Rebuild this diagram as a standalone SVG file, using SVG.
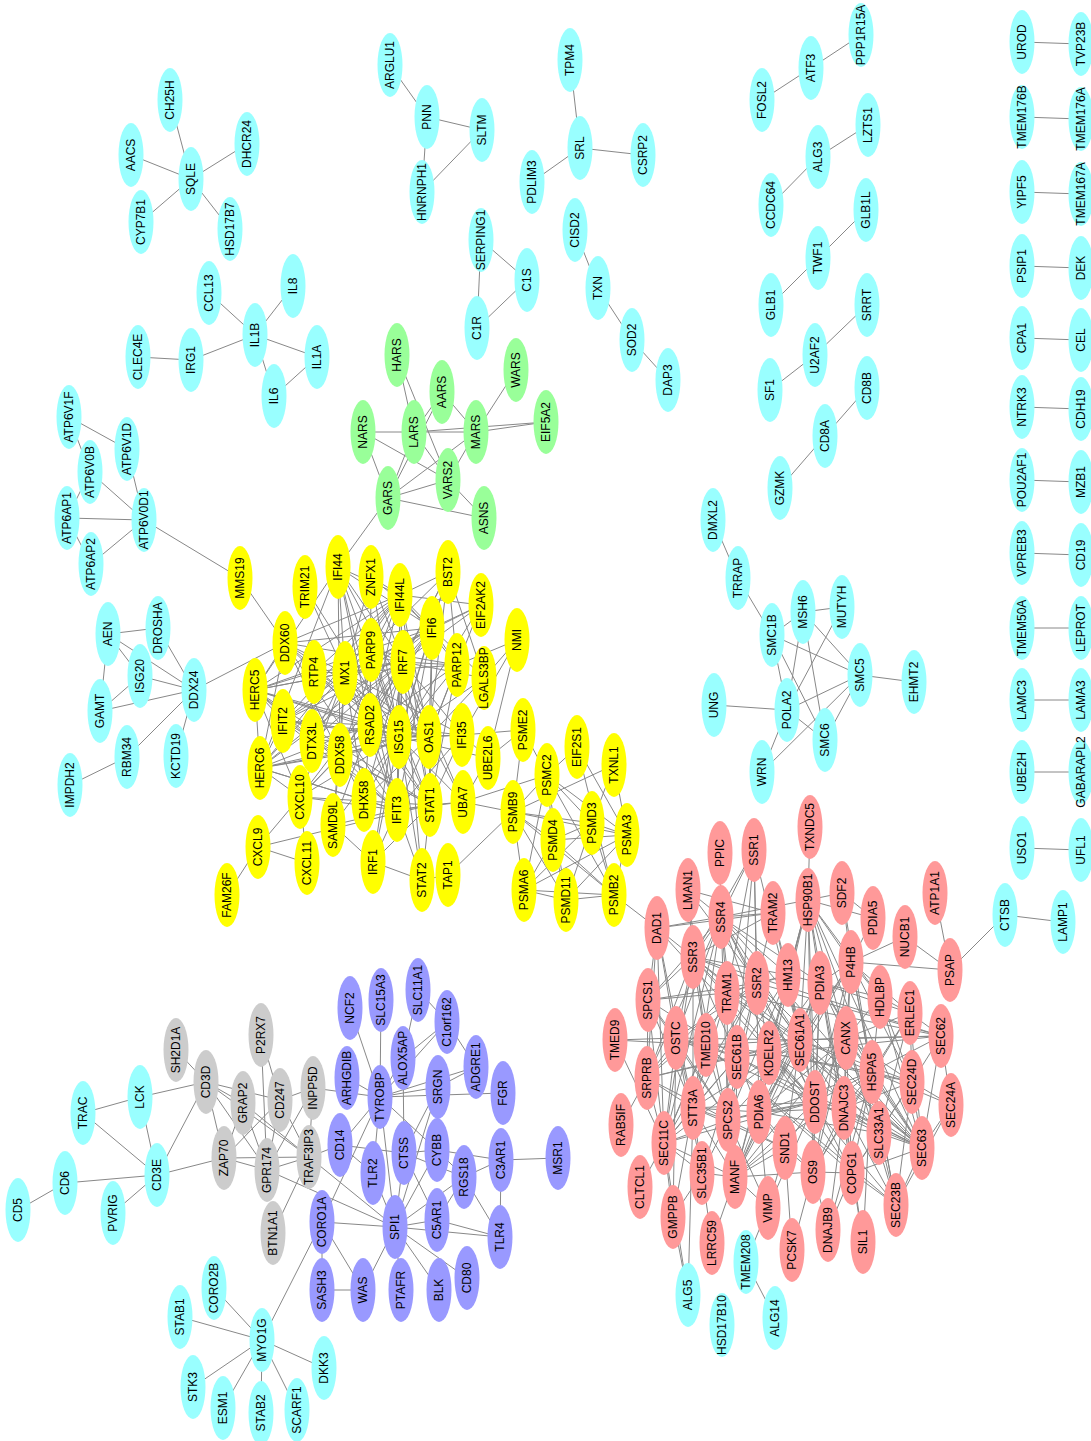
<svg xmlns="http://www.w3.org/2000/svg" width="1091" height="1441" viewBox="0 0 1091 1441">
<style>
.c{fill:#99ffff}.y{fill:#ffff00}.r{fill:#ff9999}.g{fill:#99ff99}.p{fill:#9999ff}.k{fill:#cccccc}
text{font-family:"Liberation Sans",Arial,sans-serif;font-size:12px;text-anchor:middle;dominant-baseline:central;fill:#000}
#edges line{stroke:#888;stroke-width:1}
</style>
<rect width="1091" height="1441" fill="#fff"/>
<g id="edges">
<line x1="170" y1="100" x2="191" y2="179"/><line x1="131" y1="155" x2="191" y2="179"/><line x1="141" y1="222" x2="191" y2="179"/><line x1="247" y1="144" x2="191" y2="179"/><line x1="230" y1="229" x2="191" y2="179"/>
<line x1="209" y1="293" x2="255" y2="335"/><line x1="293" y1="286" x2="255" y2="335"/><line x1="191" y1="360" x2="255" y2="335"/><line x1="138" y1="357" x2="191" y2="360"/><line x1="255" y1="335" x2="317" y2="357"/><line x1="255" y1="335" x2="274" y2="396"/><line x1="274" y1="396" x2="317" y2="357"/>
<line x1="69" y1="417" x2="127" y2="449"/><line x1="69" y1="417" x2="90" y2="472"/><line x1="90" y1="472" x2="144" y2="520"/><line x1="127" y1="449" x2="144" y2="520"/><line x1="67" y1="518" x2="90" y2="472"/><line x1="67" y1="518" x2="144" y2="520"/><line x1="67" y1="518" x2="91" y2="564"/><line x1="91" y1="564" x2="144" y2="520"/><line x1="144" y1="520" x2="240" y2="578"/>
<line x1="108" y1="634" x2="158" y2="628"/><line x1="108" y1="634" x2="140" y2="676"/><line x1="108" y1="634" x2="100" y2="711"/><line x1="108" y1="634" x2="194" y2="690"/><line x1="100" y1="711" x2="140" y2="676"/><line x1="100" y1="711" x2="194" y2="690"/><line x1="140" y1="676" x2="194" y2="690"/><line x1="158" y1="628" x2="194" y2="690"/><line x1="127" y1="757" x2="194" y2="690"/><line x1="127" y1="757" x2="70" y2="785"/><line x1="176" y1="756" x2="194" y2="690"/><line x1="194" y1="690" x2="285" y2="643"/><line x1="240" y1="578" x2="285" y2="643"/>
<line x1="390" y1="65" x2="427" y2="117"/><line x1="427" y1="117" x2="482" y2="130"/><line x1="427" y1="117" x2="422" y2="192"/><line x1="422" y1="192" x2="482" y2="130"/>
<line x1="570" y1="60" x2="580" y2="148"/><line x1="580" y1="148" x2="532" y2="182"/><line x1="580" y1="148" x2="643" y2="155"/>
<line x1="481" y1="240" x2="527" y2="280"/><line x1="481" y1="240" x2="477" y2="328"/><line x1="477" y1="328" x2="527" y2="280"/>
<line x1="575" y1="230" x2="598" y2="288"/><line x1="598" y1="288" x2="632" y2="340"/><line x1="632" y1="340" x2="668" y2="380"/>
<line x1="363" y1="432" x2="476" y2="432"/><line x1="363" y1="432" x2="388" y2="498"/><line x1="363" y1="432" x2="448" y2="480"/><line x1="397" y1="355" x2="414" y2="432"/><line x1="397" y1="355" x2="448" y2="480"/><line x1="442" y1="392" x2="414" y2="432"/><line x1="442" y1="392" x2="476" y2="432"/><line x1="442" y1="392" x2="388" y2="498"/><line x1="414" y1="432" x2="388" y2="498"/><line x1="414" y1="432" x2="448" y2="480"/><line x1="414" y1="432" x2="546" y2="422"/><line x1="476" y1="432" x2="516" y2="370"/><line x1="476" y1="432" x2="546" y2="422"/><line x1="476" y1="432" x2="388" y2="498"/><line x1="476" y1="432" x2="448" y2="480"/><line x1="448" y1="480" x2="388" y2="498"/><line x1="448" y1="480" x2="484" y2="518"/><line x1="388" y1="498" x2="484" y2="518"/><line x1="388" y1="498" x2="338" y2="567"/>
<line x1="762" y1="100" x2="811" y2="68"/><line x1="811" y1="68" x2="861" y2="35"/><line x1="771" y1="205" x2="818" y2="157"/><line x1="818" y1="157" x2="868" y2="125"/><line x1="771" y1="305" x2="818" y2="258"/><line x1="818" y1="258" x2="866" y2="210"/><line x1="770" y1="390" x2="815" y2="355"/><line x1="815" y1="355" x2="867" y2="305"/><line x1="780" y1="488" x2="825" y2="436"/><line x1="825" y1="436" x2="867" y2="388"/>
<line x1="713" y1="520" x2="738" y2="578"/><line x1="738" y1="578" x2="772" y2="635"/><line x1="772" y1="635" x2="803" y2="612"/><line x1="772" y1="635" x2="860" y2="675"/><line x1="772" y1="635" x2="787" y2="710"/><line x1="772" y1="635" x2="825" y2="740"/><line x1="803" y1="612" x2="842" y2="607"/><line x1="803" y1="612" x2="860" y2="675"/><line x1="803" y1="612" x2="787" y2="710"/><line x1="803" y1="612" x2="825" y2="740"/><line x1="842" y1="607" x2="787" y2="710"/><line x1="860" y1="675" x2="914" y2="682"/><line x1="860" y1="675" x2="787" y2="710"/><line x1="860" y1="675" x2="825" y2="740"/><line x1="714" y1="705" x2="787" y2="710"/><line x1="762" y1="772" x2="787" y2="710"/><line x1="762" y1="772" x2="860" y2="675"/><line x1="787" y1="710" x2="825" y2="740"/>
<line x1="1022" y1="42" x2="1081" y2="44"/><line x1="1022" y1="117" x2="1081" y2="119"/><line x1="1022" y1="192" x2="1081" y2="194"/><line x1="1022" y1="266" x2="1081" y2="268"/><line x1="1022" y1="338" x2="1081" y2="340"/><line x1="1022" y1="407" x2="1081" y2="409"/><line x1="1022" y1="480" x2="1081" y2="482"/><line x1="1022" y1="553" x2="1081" y2="555"/><line x1="1022" y1="628" x2="1081" y2="628"/><line x1="1022" y1="700" x2="1081" y2="700"/><line x1="1022" y1="772" x2="1081" y2="772"/><line x1="1022" y1="848" x2="1081" y2="850"/>
<line x1="1005" y1="915" x2="1063" y2="922"/><line x1="1005" y1="915" x2="950" y2="970"/>
<!-- yellow -->
<line x1="399" y1="737" x2="338" y2="567"/><line x1="399" y1="737" x2="371" y2="577"/><line x1="399" y1="737" x2="400" y2="595"/><line x1="399" y1="737" x2="448" y2="572"/><line x1="399" y1="737" x2="432" y2="628"/><line x1="399" y1="737" x2="285" y2="643"/><line x1="399" y1="737" x2="371" y2="650"/><line x1="399" y1="737" x2="314" y2="672"/><line x1="399" y1="737" x2="345" y2="673"/><line x1="399" y1="737" x2="403" y2="662"/><line x1="399" y1="737" x2="457" y2="665"/><line x1="399" y1="737" x2="255" y2="690"/><line x1="399" y1="737" x2="283" y2="721"/><line x1="399" y1="737" x2="370" y2="725"/><line x1="399" y1="737" x2="429" y2="737"/><line x1="399" y1="737" x2="462" y2="735"/><line x1="399" y1="737" x2="260" y2="768"/><line x1="399" y1="737" x2="312" y2="741"/><line x1="399" y1="737" x2="340" y2="755"/><line x1="399" y1="737" x2="364" y2="800"/><line x1="399" y1="737" x2="397" y2="810"/><line x1="399" y1="737" x2="430" y2="805"/><line x1="399" y1="737" x2="463" y2="802"/><line x1="399" y1="737" x2="481" y2="605"/><line x1="399" y1="737" x2="484" y2="678"/><line x1="399" y1="737" x2="305" y2="587"/><line x1="399" y1="737" x2="333" y2="825"/><line x1="399" y1="737" x2="300" y2="797"/><line x1="399" y1="737" x2="373" y2="862"/><line x1="399" y1="737" x2="422" y2="880"/><line x1="399" y1="737" x2="488" y2="758"/>
<line x1="345" y1="673" x2="338" y2="567"/><line x1="345" y1="673" x2="371" y2="577"/><line x1="345" y1="673" x2="400" y2="595"/><line x1="345" y1="673" x2="448" y2="572"/><line x1="345" y1="673" x2="432" y2="628"/><line x1="345" y1="673" x2="285" y2="643"/><line x1="345" y1="673" x2="371" y2="650"/><line x1="345" y1="673" x2="314" y2="672"/><line x1="345" y1="673" x2="403" y2="662"/><line x1="345" y1="673" x2="457" y2="665"/><line x1="345" y1="673" x2="255" y2="690"/><line x1="345" y1="673" x2="283" y2="721"/><line x1="345" y1="673" x2="370" y2="725"/><line x1="345" y1="673" x2="429" y2="737"/><line x1="345" y1="673" x2="462" y2="735"/><line x1="345" y1="673" x2="260" y2="768"/><line x1="345" y1="673" x2="312" y2="741"/><line x1="345" y1="673" x2="340" y2="755"/><line x1="345" y1="673" x2="364" y2="800"/><line x1="345" y1="673" x2="397" y2="810"/><line x1="345" y1="673" x2="430" y2="805"/><line x1="345" y1="673" x2="481" y2="605"/><line x1="345" y1="673" x2="333" y2="825"/><line x1="345" y1="673" x2="300" y2="797"/><line x1="345" y1="673" x2="305" y2="587"/>
<line x1="403" y1="662" x2="338" y2="567"/><line x1="403" y1="662" x2="371" y2="577"/><line x1="403" y1="662" x2="400" y2="595"/><line x1="403" y1="662" x2="448" y2="572"/><line x1="403" y1="662" x2="432" y2="628"/><line x1="403" y1="662" x2="285" y2="643"/><line x1="403" y1="662" x2="371" y2="650"/><line x1="403" y1="662" x2="314" y2="672"/><line x1="403" y1="662" x2="457" y2="665"/><line x1="403" y1="662" x2="255" y2="690"/><line x1="403" y1="662" x2="283" y2="721"/><line x1="403" y1="662" x2="370" y2="725"/><line x1="403" y1="662" x2="429" y2="737"/><line x1="403" y1="662" x2="462" y2="735"/><line x1="403" y1="662" x2="260" y2="768"/><line x1="403" y1="662" x2="312" y2="741"/><line x1="403" y1="662" x2="340" y2="755"/><line x1="403" y1="662" x2="364" y2="800"/><line x1="403" y1="662" x2="397" y2="810"/><line x1="403" y1="662" x2="430" y2="805"/><line x1="403" y1="662" x2="463" y2="802"/><line x1="403" y1="662" x2="481" y2="605"/><line x1="403" y1="662" x2="484" y2="678"/><line x1="403" y1="662" x2="422" y2="880"/><line x1="403" y1="662" x2="373" y2="862"/><line x1="403" y1="662" x2="300" y2="797"/>
<line x1="370" y1="725" x2="338" y2="567"/><line x1="370" y1="725" x2="371" y2="577"/><line x1="370" y1="725" x2="400" y2="595"/><line x1="370" y1="725" x2="448" y2="572"/><line x1="370" y1="725" x2="432" y2="628"/><line x1="370" y1="725" x2="285" y2="643"/><line x1="370" y1="725" x2="371" y2="650"/><line x1="370" y1="725" x2="314" y2="672"/><line x1="370" y1="725" x2="255" y2="690"/><line x1="370" y1="725" x2="283" y2="721"/><line x1="370" y1="725" x2="429" y2="737"/><line x1="370" y1="725" x2="462" y2="735"/><line x1="370" y1="725" x2="260" y2="768"/><line x1="370" y1="725" x2="312" y2="741"/><line x1="370" y1="725" x2="340" y2="755"/><line x1="370" y1="725" x2="364" y2="800"/><line x1="370" y1="725" x2="397" y2="810"/><line x1="370" y1="725" x2="430" y2="805"/><line x1="370" y1="725" x2="300" y2="797"/><line x1="370" y1="725" x2="333" y2="825"/><line x1="370" y1="725" x2="457" y2="665"/>
<line x1="429" y1="737" x2="338" y2="567"/><line x1="429" y1="737" x2="400" y2="595"/><line x1="429" y1="737" x2="448" y2="572"/><line x1="429" y1="737" x2="432" y2="628"/><line x1="429" y1="737" x2="285" y2="643"/><line x1="429" y1="737" x2="314" y2="672"/><line x1="429" y1="737" x2="255" y2="690"/><line x1="429" y1="737" x2="283" y2="721"/><line x1="429" y1="737" x2="462" y2="735"/><line x1="429" y1="737" x2="260" y2="768"/><line x1="429" y1="737" x2="340" y2="755"/><line x1="429" y1="737" x2="364" y2="800"/><line x1="429" y1="737" x2="397" y2="810"/><line x1="429" y1="737" x2="430" y2="805"/><line x1="429" y1="737" x2="463" y2="802"/><line x1="429" y1="737" x2="481" y2="605"/><line x1="429" y1="737" x2="484" y2="678"/><line x1="429" y1="737" x2="457" y2="665"/><line x1="429" y1="737" x2="371" y2="650"/>
<line x1="397" y1="810" x2="338" y2="567"/><line x1="397" y1="810" x2="400" y2="595"/><line x1="397" y1="810" x2="432" y2="628"/><line x1="397" y1="810" x2="285" y2="643"/><line x1="397" y1="810" x2="371" y2="650"/><line x1="397" y1="810" x2="255" y2="690"/><line x1="397" y1="810" x2="283" y2="721"/><line x1="397" y1="810" x2="462" y2="735"/><line x1="397" y1="810" x2="260" y2="768"/><line x1="397" y1="810" x2="340" y2="755"/><line x1="397" y1="810" x2="364" y2="800"/><line x1="397" y1="810" x2="430" y2="805"/><line x1="397" y1="810" x2="300" y2="797"/><line x1="397" y1="810" x2="333" y2="825"/><line x1="397" y1="810" x2="373" y2="862"/><line x1="397" y1="810" x2="422" y2="880"/><line x1="397" y1="810" x2="463" y2="802"/>
<line x1="430" y1="805" x2="432" y2="628"/><line x1="430" y1="805" x2="371" y2="650"/><line x1="430" y1="805" x2="312" y2="741"/><line x1="430" y1="805" x2="340" y2="755"/><line x1="430" y1="805" x2="462" y2="735"/><line x1="430" y1="805" x2="373" y2="862"/><line x1="430" y1="805" x2="422" y2="880"/><line x1="430" y1="805" x2="300" y2="797"/><line x1="430" y1="805" x2="255" y2="690"/><line x1="430" y1="805" x2="457" y2="665"/><line x1="430" y1="805" x2="463" y2="802"/><line x1="430" y1="805" x2="400" y2="595"/><line x1="430" y1="805" x2="258" y2="847"/>
<line x1="340" y1="755" x2="338" y2="567"/><line x1="340" y1="755" x2="400" y2="595"/><line x1="340" y1="755" x2="283" y2="721"/><line x1="340" y1="755" x2="255" y2="690"/><line x1="340" y1="755" x2="260" y2="768"/><line x1="340" y1="755" x2="364" y2="800"/><line x1="340" y1="755" x2="285" y2="643"/><line x1="340" y1="755" x2="432" y2="628"/><line x1="340" y1="755" x2="300" y2="797"/><line x1="340" y1="755" x2="333" y2="825"/>
<line x1="255" y1="690" x2="400" y2="595"/><line x1="255" y1="690" x2="338" y2="567"/><line x1="255" y1="690" x2="285" y2="643"/><line x1="255" y1="690" x2="283" y2="721"/><line x1="255" y1="690" x2="260" y2="768"/><line x1="255" y1="690" x2="314" y2="672"/><line x1="255" y1="690" x2="432" y2="628"/><line x1="255" y1="690" x2="312" y2="741"/><line x1="255" y1="690" x2="300" y2="797"/>
<line x1="260" y1="768" x2="400" y2="595"/><line x1="260" y1="768" x2="338" y2="567"/><line x1="260" y1="768" x2="283" y2="721"/><line x1="260" y1="768" x2="285" y2="643"/><line x1="260" y1="768" x2="432" y2="628"/><line x1="260" y1="768" x2="300" y2="797"/><line x1="260" y1="768" x2="364" y2="800"/>
<line x1="400" y1="595" x2="338" y2="567"/><line x1="400" y1="595" x2="371" y2="577"/><line x1="400" y1="595" x2="432" y2="628"/><line x1="400" y1="595" x2="285" y2="643"/><line x1="400" y1="595" x2="448" y2="572"/><line x1="400" y1="595" x2="457" y2="665"/><line x1="400" y1="595" x2="481" y2="605"/><line x1="400" y1="595" x2="283" y2="721"/><line x1="400" y1="595" x2="314" y2="672"/><line x1="400" y1="595" x2="371" y2="650"/>
<line x1="432" y1="628" x2="448" y2="572"/><line x1="432" y1="628" x2="338" y2="567"/><line x1="432" y1="628" x2="371" y2="577"/><line x1="432" y1="628" x2="285" y2="643"/><line x1="432" y1="628" x2="283" y2="721"/><line x1="432" y1="628" x2="481" y2="605"/><line x1="432" y1="628" x2="484" y2="678"/><line x1="432" y1="628" x2="457" y2="665"/>
<line x1="371" y1="650" x2="312" y2="741"/><line x1="371" y1="650" x2="457" y2="665"/><line x1="448" y1="572" x2="457" y2="665"/><line x1="448" y1="572" x2="484" y2="678"/><line x1="462" y1="735" x2="517" y2="640"/><line x1="462" y1="735" x2="523" y2="730"/><line x1="517" y1="640" x2="488" y2="758"/><line x1="517" y1="640" x2="457" y2="665"/><line x1="517" y1="640" x2="484" y2="678"/><line x1="488" y1="758" x2="523" y2="730"/><line x1="488" y1="758" x2="463" y2="802"/><line x1="488" y1="758" x2="462" y2="735"/>
<line x1="300" y1="797" x2="258" y2="847"/><line x1="300" y1="797" x2="307" y2="863"/><line x1="258" y1="847" x2="307" y2="863"/><line x1="258" y1="847" x2="227" y2="895"/><line x1="333" y1="825" x2="373" y2="862"/><line x1="373" y1="862" x2="422" y2="880"/><line x1="422" y1="880" x2="448" y2="875"/><line x1="448" y1="875" x2="513" y2="812"/>
<line x1="463" y1="802" x2="513" y2="812"/><line x1="463" y1="802" x2="547" y2="775"/><line x1="523" y1="730" x2="513" y2="812"/><line x1="523" y1="730" x2="547" y2="775"/>
<line x1="513" y1="812" x2="547" y2="775"/><line x1="513" y1="812" x2="553" y2="840"/><line x1="513" y1="812" x2="592" y2="823"/><line x1="513" y1="812" x2="627" y2="835"/><line x1="513" y1="812" x2="524" y2="890"/><line x1="513" y1="812" x2="614" y2="895"/><line x1="513" y1="812" x2="566" y2="900"/><line x1="513" y1="812" x2="614" y2="765"/>
<line x1="547" y1="775" x2="577" y2="747"/><line x1="547" y1="775" x2="592" y2="823"/><line x1="547" y1="775" x2="627" y2="835"/><line x1="547" y1="775" x2="553" y2="840"/><line x1="547" y1="775" x2="614" y2="895"/><line x1="547" y1="775" x2="524" y2="890"/><line x1="547" y1="775" x2="566" y2="900"/>
<line x1="592" y1="823" x2="553" y2="840"/><line x1="592" y1="823" x2="627" y2="835"/><line x1="592" y1="823" x2="524" y2="890"/><line x1="592" y1="823" x2="566" y2="900"/><line x1="592" y1="823" x2="614" y2="895"/><line x1="592" y1="823" x2="614" y2="765"/>
<line x1="553" y1="840" x2="627" y2="835"/><line x1="553" y1="840" x2="524" y2="890"/><line x1="553" y1="840" x2="566" y2="900"/><line x1="553" y1="840" x2="614" y2="895"/>
<line x1="627" y1="835" x2="524" y2="890"/><line x1="627" y1="835" x2="566" y2="900"/><line x1="627" y1="835" x2="614" y2="895"/><line x1="627" y1="835" x2="614" y2="765"/><line x1="627" y1="835" x2="577" y2="747"/>
<line x1="524" y1="890" x2="566" y2="900"/><line x1="524" y1="890" x2="614" y2="895"/><line x1="566" y1="900" x2="614" y2="895"/><line x1="577" y1="747" x2="614" y2="895"/><line x1="614" y1="895" x2="657" y2="928"/>
<!-- red -->
<line x1="721" y1="917" x2="754" y2="850"/><line x1="721" y1="917" x2="720" y2="853"/><line x1="721" y1="917" x2="688" y2="890"/><line x1="721" y1="917" x2="773" y2="913"/><line x1="721" y1="917" x2="657" y2="928"/><line x1="721" y1="917" x2="693" y2="957"/><line x1="721" y1="917" x2="757" y2="983"/><line x1="721" y1="917" x2="727" y2="993"/><line x1="721" y1="917" x2="788" y2="975"/><line x1="721" y1="917" x2="800" y2="1040"/><line x1="721" y1="917" x2="737" y2="1057"/><line x1="721" y1="917" x2="648" y2="1000"/><line x1="721" y1="917" x2="676" y2="1038"/><line x1="721" y1="917" x2="693" y2="1108"/><line x1="721" y1="917" x2="815" y2="1102"/><line x1="721" y1="917" x2="728" y2="1120"/><line x1="721" y1="917" x2="664" y2="1143"/><line x1="721" y1="917" x2="808" y2="900"/><line x1="721" y1="917" x2="820" y2="983"/><line x1="721" y1="917" x2="922" y2="1148"/><line x1="721" y1="917" x2="647" y2="1078"/><line x1="721" y1="917" x2="769" y2="1053"/>
<line x1="754" y1="850" x2="757" y2="983"/><line x1="754" y1="850" x2="693" y2="957"/><line x1="754" y1="850" x2="727" y2="993"/><line x1="754" y1="850" x2="800" y2="1040"/><line x1="754" y1="850" x2="737" y2="1057"/><line x1="754" y1="850" x2="759" y2="1112"/>
<line x1="688" y1="890" x2="773" y2="913"/><line x1="688" y1="890" x2="693" y2="957"/><line x1="688" y1="890" x2="706" y2="1045"/><line x1="688" y1="890" x2="800" y2="1040"/>
<line x1="773" y1="913" x2="788" y2="975"/><line x1="773" y1="913" x2="757" y2="983"/><line x1="773" y1="913" x2="800" y2="1040"/><line x1="773" y1="913" x2="693" y2="957"/><line x1="657" y1="928" x2="773" y2="913"/>
<line x1="810" y1="827" x2="808" y2="900"/>
<line x1="808" y1="900" x2="842" y2="893"/><line x1="808" y1="900" x2="851" y2="962"/><line x1="808" y1="900" x2="820" y2="983"/><line x1="808" y1="900" x2="846" y2="1038"/><line x1="808" y1="900" x2="872" y2="1072"/><line x1="808" y1="900" x2="759" y2="1112"/><line x1="808" y1="900" x2="844" y2="1108"/><line x1="808" y1="900" x2="788" y2="975"/><line x1="808" y1="900" x2="800" y2="1040"/><line x1="808" y1="900" x2="815" y2="1102"/><line x1="808" y1="900" x2="813" y2="1172"/><line x1="808" y1="900" x2="735" y2="1177"/><line x1="808" y1="900" x2="922" y2="1148"/><line x1="808" y1="900" x2="769" y2="1053"/><line x1="808" y1="900" x2="880" y2="997"/><line x1="808" y1="900" x2="873" y2="918"/>
<line x1="842" y1="893" x2="873" y2="918"/><line x1="842" y1="893" x2="872" y2="1072"/><line x1="842" y1="893" x2="851" y2="962"/>
<line x1="851" y1="962" x2="905" y2="937"/><line x1="851" y1="962" x2="950" y2="970"/><line x1="851" y1="962" x2="820" y2="983"/><line x1="851" y1="962" x2="872" y2="1072"/><line x1="851" y1="962" x2="846" y2="1038"/><line x1="851" y1="962" x2="759" y2="1112"/><line x1="851" y1="962" x2="910" y2="1013"/><line x1="851" y1="962" x2="880" y2="997"/><line x1="851" y1="962" x2="815" y2="1102"/><line x1="851" y1="962" x2="800" y2="1040"/><line x1="851" y1="962" x2="844" y2="1108"/><line x1="851" y1="962" x2="813" y2="1172"/><line x1="851" y1="962" x2="735" y2="1177"/><line x1="851" y1="962" x2="912" y2="1082"/><line x1="851" y1="962" x2="896" y2="1205"/><line x1="873" y1="918" x2="851" y2="962"/>
<line x1="905" y1="937" x2="950" y2="970"/><line x1="935" y1="893" x2="950" y2="970"/>
<line x1="788" y1="975" x2="757" y2="983"/><line x1="788" y1="975" x2="800" y2="1040"/><line x1="788" y1="975" x2="693" y2="957"/><line x1="788" y1="975" x2="727" y2="993"/><line x1="788" y1="975" x2="737" y2="1057"/><line x1="788" y1="975" x2="815" y2="1102"/><line x1="788" y1="975" x2="728" y2="1120"/><line x1="788" y1="975" x2="820" y2="983"/>
<line x1="757" y1="983" x2="693" y2="957"/><line x1="757" y1="983" x2="727" y2="993"/><line x1="757" y1="983" x2="800" y2="1040"/><line x1="757" y1="983" x2="737" y2="1057"/><line x1="757" y1="983" x2="648" y2="1000"/><line x1="757" y1="983" x2="728" y2="1120"/><line x1="757" y1="983" x2="676" y2="1038"/><line x1="757" y1="983" x2="693" y2="1108"/><line x1="757" y1="983" x2="815" y2="1102"/><line x1="757" y1="983" x2="664" y2="1143"/><line x1="757" y1="983" x2="769" y2="1053"/><line x1="757" y1="983" x2="922" y2="1148"/><line x1="757" y1="983" x2="941" y2="1036"/><line x1="757" y1="983" x2="647" y2="1078"/>
<line x1="693" y1="957" x2="727" y2="993"/><line x1="693" y1="957" x2="800" y2="1040"/><line x1="693" y1="957" x2="737" y2="1057"/><line x1="693" y1="957" x2="648" y2="1000"/><line x1="693" y1="957" x2="728" y2="1120"/><line x1="693" y1="957" x2="676" y2="1038"/><line x1="693" y1="957" x2="693" y2="1108"/><line x1="693" y1="957" x2="664" y2="1143"/><line x1="693" y1="957" x2="657" y2="928"/><line x1="693" y1="957" x2="815" y2="1102"/><line x1="693" y1="957" x2="922" y2="1148"/><line x1="693" y1="957" x2="647" y2="1078"/><line x1="693" y1="957" x2="706" y2="1045"/><line x1="693" y1="957" x2="941" y2="1036"/>
<line x1="657" y1="928" x2="648" y2="1000"/><line x1="657" y1="928" x2="676" y2="1038"/><line x1="657" y1="928" x2="693" y2="1108"/><line x1="657" y1="928" x2="815" y2="1102"/><line x1="657" y1="928" x2="664" y2="1143"/><line x1="657" y1="928" x2="647" y2="1078"/>
<line x1="820" y1="983" x2="846" y2="1038"/><line x1="820" y1="983" x2="872" y2="1072"/><line x1="820" y1="983" x2="759" y2="1112"/><line x1="820" y1="983" x2="800" y2="1040"/><line x1="820" y1="983" x2="815" y2="1102"/><line x1="820" y1="983" x2="844" y2="1108"/><line x1="820" y1="983" x2="910" y2="1013"/><line x1="820" y1="983" x2="880" y2="997"/><line x1="820" y1="983" x2="813" y2="1172"/><line x1="820" y1="983" x2="922" y2="1148"/><line x1="820" y1="983" x2="769" y2="1053"/><line x1="820" y1="983" x2="735" y2="1177"/><line x1="820" y1="983" x2="852" y2="1173"/>
<line x1="727" y1="993" x2="800" y2="1040"/><line x1="727" y1="993" x2="737" y2="1057"/><line x1="727" y1="993" x2="648" y2="1000"/><line x1="727" y1="993" x2="728" y2="1120"/><line x1="727" y1="993" x2="664" y2="1143"/><line x1="727" y1="993" x2="922" y2="1148"/><line x1="727" y1="993" x2="941" y2="1036"/><line x1="727" y1="993" x2="647" y2="1078"/><line x1="727" y1="993" x2="693" y2="1108"/>
<line x1="880" y1="997" x2="846" y2="1038"/><line x1="880" y1="997" x2="872" y2="1072"/><line x1="880" y1="997" x2="910" y2="1013"/><line x1="880" y1="997" x2="912" y2="1082"/><line x1="880" y1="997" x2="922" y2="1148"/>
<line x1="648" y1="1000" x2="728" y2="1120"/><line x1="648" y1="1000" x2="664" y2="1143"/><line x1="648" y1="1000" x2="676" y2="1038"/><line x1="648" y1="1000" x2="737" y2="1057"/><line x1="648" y1="1000" x2="693" y2="1108"/><line x1="648" y1="1000" x2="647" y2="1078"/>
<line x1="910" y1="1013" x2="813" y2="1172"/><line x1="910" y1="1013" x2="872" y2="1072"/><line x1="910" y1="1013" x2="912" y2="1082"/><line x1="910" y1="1013" x2="846" y2="1038"/><line x1="910" y1="1013" x2="879" y2="1133"/><line x1="910" y1="1013" x2="941" y2="1036"/><line x1="910" y1="1013" x2="922" y2="1148"/>
<line x1="941" y1="1036" x2="922" y2="1148"/><line x1="941" y1="1036" x2="800" y2="1040"/><line x1="941" y1="1036" x2="737" y2="1057"/><line x1="941" y1="1036" x2="912" y2="1082"/><line x1="941" y1="1036" x2="951" y2="1105"/><line x1="941" y1="1036" x2="872" y2="1072"/><line x1="941" y1="1036" x2="846" y2="1038"/>
<line x1="846" y1="1038" x2="872" y2="1072"/><line x1="846" y1="1038" x2="800" y2="1040"/><line x1="846" y1="1038" x2="815" y2="1102"/><line x1="846" y1="1038" x2="759" y2="1112"/><line x1="846" y1="1038" x2="844" y2="1108"/><line x1="846" y1="1038" x2="922" y2="1148"/><line x1="846" y1="1038" x2="912" y2="1082"/><line x1="846" y1="1038" x2="879" y2="1133"/><line x1="846" y1="1038" x2="852" y2="1173"/><line x1="846" y1="1038" x2="813" y2="1172"/><line x1="846" y1="1038" x2="896" y2="1205"/><line x1="846" y1="1038" x2="735" y2="1177"/>
<line x1="800" y1="1040" x2="737" y2="1057"/><line x1="800" y1="1040" x2="922" y2="1148"/><line x1="800" y1="1040" x2="815" y2="1102"/><line x1="800" y1="1040" x2="769" y2="1053"/><line x1="800" y1="1040" x2="759" y2="1112"/><line x1="800" y1="1040" x2="728" y2="1120"/><line x1="800" y1="1040" x2="693" y2="1108"/><line x1="800" y1="1040" x2="676" y2="1038"/><line x1="800" y1="1040" x2="664" y2="1143"/><line x1="800" y1="1040" x2="872" y2="1072"/><line x1="800" y1="1040" x2="647" y2="1078"/><line x1="800" y1="1040" x2="735" y2="1177"/><line x1="800" y1="1040" x2="785" y2="1148"/><line x1="800" y1="1040" x2="912" y2="1082"/><line x1="800" y1="1040" x2="844" y2="1108"/><line x1="800" y1="1040" x2="879" y2="1133"/><line x1="800" y1="1040" x2="706" y2="1045"/>
<line x1="676" y1="1038" x2="693" y2="1108"/><line x1="676" y1="1038" x2="815" y2="1102"/><line x1="676" y1="1038" x2="664" y2="1143"/><line x1="676" y1="1038" x2="647" y2="1078"/><line x1="676" y1="1038" x2="615" y2="1040"/><line x1="676" y1="1038" x2="706" y2="1045"/><line x1="676" y1="1038" x2="728" y2="1120"/><line x1="676" y1="1038" x2="737" y2="1057"/><line x1="676" y1="1038" x2="702" y2="1173"/><line x1="676" y1="1038" x2="673" y2="1217"/>
<line x1="615" y1="1040" x2="706" y2="1045"/><line x1="615" y1="1040" x2="664" y2="1143"/>
<line x1="706" y1="1045" x2="737" y2="1057"/><line x1="706" y1="1045" x2="769" y2="1053"/><line x1="706" y1="1045" x2="693" y2="1108"/><line x1="706" y1="1045" x2="664" y2="1143"/><line x1="706" y1="1045" x2="728" y2="1120"/><line x1="706" y1="1045" x2="852" y2="1173"/><line x1="706" y1="1045" x2="896" y2="1205"/>
<line x1="737" y1="1057" x2="769" y2="1053"/><line x1="737" y1="1057" x2="693" y2="1108"/><line x1="737" y1="1057" x2="728" y2="1120"/><line x1="737" y1="1057" x2="759" y2="1112"/><line x1="737" y1="1057" x2="815" y2="1102"/><line x1="737" y1="1057" x2="664" y2="1143"/><line x1="737" y1="1057" x2="922" y2="1148"/><line x1="737" y1="1057" x2="647" y2="1078"/><line x1="737" y1="1057" x2="702" y2="1173"/><line x1="737" y1="1057" x2="735" y2="1177"/>
<line x1="769" y1="1053" x2="759" y2="1112"/><line x1="769" y1="1053" x2="815" y2="1102"/><line x1="769" y1="1053" x2="872" y2="1072"/><line x1="769" y1="1053" x2="912" y2="1082"/><line x1="769" y1="1053" x2="896" y2="1205"/><line x1="769" y1="1053" x2="852" y2="1173"/><line x1="769" y1="1053" x2="735" y2="1177"/><line x1="769" y1="1053" x2="922" y2="1148"/>
<line x1="872" y1="1072" x2="815" y2="1102"/><line x1="872" y1="1072" x2="844" y2="1108"/><line x1="872" y1="1072" x2="912" y2="1082"/><line x1="872" y1="1072" x2="922" y2="1148"/><line x1="872" y1="1072" x2="879" y2="1133"/><line x1="872" y1="1072" x2="896" y2="1205"/><line x1="872" y1="1072" x2="813" y2="1172"/><line x1="872" y1="1072" x2="852" y2="1173"/><line x1="872" y1="1072" x2="759" y2="1112"/><line x1="872" y1="1072" x2="863" y2="1242"/><line x1="872" y1="1072" x2="735" y2="1177"/><line x1="872" y1="1072" x2="828" y2="1230"/><line x1="872" y1="1072" x2="951" y2="1105"/>
<line x1="647" y1="1078" x2="664" y2="1143"/><line x1="647" y1="1078" x2="693" y2="1108"/><line x1="647" y1="1078" x2="728" y2="1120"/><line x1="647" y1="1078" x2="621" y2="1125"/>
<line x1="912" y1="1082" x2="951" y2="1105"/><line x1="912" y1="1082" x2="922" y2="1148"/><line x1="912" y1="1082" x2="896" y2="1205"/><line x1="912" y1="1082" x2="879" y2="1133"/><line x1="912" y1="1082" x2="844" y2="1108"/><line x1="912" y1="1082" x2="852" y2="1173"/>
<line x1="815" y1="1102" x2="844" y2="1108"/><line x1="815" y1="1102" x2="693" y2="1108"/><line x1="815" y1="1102" x2="759" y2="1112"/><line x1="815" y1="1102" x2="728" y2="1120"/><line x1="815" y1="1102" x2="785" y2="1148"/><line x1="815" y1="1102" x2="813" y2="1172"/><line x1="815" y1="1102" x2="879" y2="1133"/><line x1="815" y1="1102" x2="922" y2="1148"/><line x1="815" y1="1102" x2="852" y2="1173"/><line x1="815" y1="1102" x2="735" y2="1177"/><line x1="815" y1="1102" x2="664" y2="1143"/><line x1="815" y1="1102" x2="768" y2="1208"/>
<line x1="844" y1="1108" x2="879" y2="1133"/><line x1="844" y1="1108" x2="922" y2="1148"/><line x1="844" y1="1108" x2="852" y2="1173"/><line x1="844" y1="1108" x2="813" y2="1172"/><line x1="844" y1="1108" x2="896" y2="1205"/><line x1="844" y1="1108" x2="828" y2="1230"/><line x1="844" y1="1108" x2="863" y2="1242"/><line x1="844" y1="1108" x2="759" y2="1112"/>
<line x1="951" y1="1105" x2="896" y2="1205"/><line x1="951" y1="1105" x2="922" y2="1148"/>
<line x1="693" y1="1108" x2="728" y2="1120"/><line x1="693" y1="1108" x2="664" y2="1143"/><line x1="693" y1="1108" x2="759" y2="1112"/><line x1="693" y1="1108" x2="702" y2="1173"/><line x1="693" y1="1108" x2="735" y2="1177"/><line x1="693" y1="1108" x2="673" y2="1217"/><line x1="693" y1="1108" x2="785" y2="1148"/>
<line x1="759" y1="1112" x2="728" y2="1120"/><line x1="759" y1="1112" x2="735" y2="1177"/><line x1="759" y1="1112" x2="785" y2="1148"/><line x1="759" y1="1112" x2="813" y2="1172"/><line x1="759" y1="1112" x2="879" y2="1133"/><line x1="759" y1="1112" x2="768" y2="1208"/>
<line x1="728" y1="1120" x2="664" y2="1143"/><line x1="728" y1="1120" x2="735" y2="1177"/><line x1="728" y1="1120" x2="702" y2="1173"/><line x1="728" y1="1120" x2="785" y2="1148"/><line x1="728" y1="1120" x2="768" y2="1208"/>
<line x1="879" y1="1133" x2="922" y2="1148"/><line x1="879" y1="1133" x2="896" y2="1205"/><line x1="879" y1="1133" x2="852" y2="1173"/>
<line x1="664" y1="1143" x2="640" y2="1187"/><line x1="664" y1="1143" x2="673" y2="1217"/><line x1="664" y1="1143" x2="702" y2="1173"/><line x1="664" y1="1143" x2="735" y2="1177"/><line x1="664" y1="1143" x2="688" y2="1295"/>
<line x1="785" y1="1148" x2="735" y2="1177"/><line x1="785" y1="1148" x2="813" y2="1172"/><line x1="785" y1="1148" x2="768" y2="1208"/><line x1="785" y1="1148" x2="792" y2="1250"/>
<line x1="922" y1="1148" x2="896" y2="1205"/><line x1="922" y1="1148" x2="852" y2="1173"/>
<line x1="702" y1="1173" x2="735" y2="1177"/><line x1="702" y1="1173" x2="673" y2="1217"/><line x1="702" y1="1173" x2="712" y2="1243"/>
<line x1="735" y1="1177" x2="768" y2="1208"/><line x1="735" y1="1177" x2="712" y2="1243"/><line x1="735" y1="1177" x2="813" y2="1172"/>
<line x1="813" y1="1172" x2="852" y2="1173"/><line x1="813" y1="1172" x2="828" y2="1230"/><line x1="813" y1="1172" x2="792" y2="1250"/>
<line x1="852" y1="1173" x2="896" y2="1205"/><line x1="852" y1="1173" x2="863" y2="1242"/><line x1="852" y1="1173" x2="828" y2="1230"/>
<line x1="768" y1="1208" x2="746" y2="1262"/><line x1="673" y1="1217" x2="688" y2="1295"/><line x1="688" y1="1295" x2="693" y2="1108"/><line x1="746" y1="1262" x2="775" y2="1318"/>
<!-- grey/purple -->
<line x1="18" y1="1210" x2="65" y2="1183"/><line x1="65" y1="1183" x2="157" y2="1175"/><line x1="113" y1="1213" x2="157" y2="1175"/><line x1="83" y1="1113" x2="157" y2="1175"/><line x1="83" y1="1113" x2="140" y2="1097"/><line x1="140" y1="1097" x2="157" y2="1175"/><line x1="140" y1="1097" x2="206" y2="1082"/><line x1="157" y1="1175" x2="206" y2="1082"/><line x1="157" y1="1175" x2="224" y2="1158"/>
<line x1="176" y1="1050" x2="206" y2="1082"/><line x1="206" y1="1082" x2="224" y2="1158"/><line x1="206" y1="1082" x2="243" y2="1103"/><line x1="206" y1="1082" x2="280" y2="1100"/><line x1="206" y1="1082" x2="267" y2="1170"/><line x1="206" y1="1082" x2="309" y2="1157"/>
<line x1="261" y1="1035" x2="280" y2="1100"/><line x1="261" y1="1035" x2="267" y2="1170"/>
<line x1="243" y1="1103" x2="224" y2="1158"/><line x1="243" y1="1103" x2="267" y2="1170"/><line x1="243" y1="1103" x2="309" y2="1157"/>
<line x1="280" y1="1100" x2="224" y2="1158"/><line x1="280" y1="1100" x2="267" y2="1170"/><line x1="280" y1="1100" x2="309" y2="1157"/><line x1="280" y1="1100" x2="313" y2="1088"/>
<line x1="313" y1="1088" x2="309" y2="1157"/><line x1="313" y1="1088" x2="267" y2="1170"/><line x1="313" y1="1088" x2="380" y2="1097"/>
<line x1="224" y1="1158" x2="267" y2="1170"/><line x1="224" y1="1158" x2="309" y2="1157"/><line x1="267" y1="1170" x2="309" y2="1157"/><line x1="267" y1="1170" x2="395" y2="1227"/><line x1="309" y1="1157" x2="340" y2="1145"/><line x1="309" y1="1157" x2="395" y2="1227"/><line x1="273" y1="1233" x2="309" y2="1157"/>
<line x1="322" y1="1222" x2="395" y2="1227"/><line x1="322" y1="1222" x2="380" y2="1097"/><line x1="322" y1="1222" x2="322" y2="1290"/><line x1="322" y1="1222" x2="363" y2="1290"/><line x1="322" y1="1222" x2="262" y2="1340"/>
<line x1="322" y1="1290" x2="363" y2="1290"/><line x1="363" y1="1290" x2="395" y2="1227"/><line x1="395" y1="1227" x2="401" y2="1290"/><line x1="395" y1="1227" x2="439" y2="1290"/><line x1="395" y1="1227" x2="467" y2="1278"/><line x1="395" y1="1227" x2="500" y2="1237"/><line x1="395" y1="1227" x2="437" y2="1220"/><line x1="395" y1="1227" x2="464" y2="1177"/><line x1="395" y1="1227" x2="437" y2="1150"/><line x1="395" y1="1227" x2="404" y2="1153"/><line x1="395" y1="1227" x2="380" y2="1097"/><line x1="395" y1="1227" x2="373" y2="1173"/><line x1="395" y1="1227" x2="438" y2="1087"/>
<line x1="380" y1="1097" x2="350" y2="1008"/><line x1="380" y1="1097" x2="381" y2="1000"/><line x1="380" y1="1097" x2="347" y2="1078"/><line x1="380" y1="1097" x2="403" y2="1058"/><line x1="380" y1="1097" x2="438" y2="1087"/><line x1="380" y1="1097" x2="340" y2="1145"/><line x1="380" y1="1097" x2="373" y2="1173"/><line x1="380" y1="1097" x2="437" y2="1150"/><line x1="380" y1="1097" x2="476" y2="1067"/><line x1="380" y1="1097" x2="447" y2="1022"/><line x1="380" y1="1097" x2="503" y2="1093"/>
<line x1="403" y1="1058" x2="418" y2="990"/><line x1="403" y1="1058" x2="447" y2="1022"/><line x1="403" y1="1058" x2="404" y2="1153"/><line x1="418" y1="990" x2="447" y2="1022"/><line x1="447" y1="1022" x2="476" y2="1067"/><line x1="438" y1="1087" x2="476" y2="1067"/><line x1="438" y1="1087" x2="404" y2="1153"/><line x1="438" y1="1087" x2="437" y2="1150"/>
<line x1="340" y1="1145" x2="404" y2="1153"/><line x1="340" y1="1145" x2="373" y2="1173"/><line x1="404" y1="1153" x2="437" y2="1150"/><line x1="437" y1="1150" x2="501" y2="1160"/><line x1="404" y1="1153" x2="464" y2="1177"/><line x1="437" y1="1150" x2="464" y2="1177"/><line x1="464" y1="1177" x2="501" y2="1160"/><line x1="464" y1="1177" x2="500" y2="1237"/><line x1="437" y1="1220" x2="464" y2="1177"/><line x1="501" y1="1160" x2="558" y2="1158"/><line x1="501" y1="1160" x2="500" y2="1237"/><line x1="437" y1="1220" x2="500" y2="1237"/><line x1="404" y1="1153" x2="437" y2="1220"/>
<line x1="262" y1="1340" x2="214" y2="1288"/><line x1="262" y1="1340" x2="180" y2="1317"/><line x1="262" y1="1340" x2="193" y2="1387"/><line x1="262" y1="1340" x2="223" y2="1408"/><line x1="262" y1="1340" x2="261" y2="1413"/><line x1="262" y1="1340" x2="297" y2="1410"/><line x1="262" y1="1340" x2="324" y2="1368"/>
</g>
<g id="nodes">
<g id="n-CH25H"><ellipse class="c" cx="170" cy="100" rx="12.5" ry="32"/><text transform="translate(170 100) rotate(-90)">CH25H</text></g>
<g id="n-AACS"><ellipse class="c" cx="131" cy="155" rx="12.5" ry="32"/><text transform="translate(131 155) rotate(-90)">AACS</text></g>
<g id="n-SQLE"><ellipse class="c" cx="191" cy="179" rx="12.5" ry="32"/><text transform="translate(191 179) rotate(-90)">SQLE</text></g>
<g id="n-DHCR24"><ellipse class="c" cx="247" cy="144" rx="12.5" ry="32"/><text transform="translate(247 144) rotate(-90)">DHCR24</text></g>
<g id="n-CYP7B1"><ellipse class="c" cx="141" cy="222" rx="12.5" ry="32"/><text transform="translate(141 222) rotate(-90)">CYP7B1</text></g>
<g id="n-HSD17B7"><ellipse class="c" cx="230" cy="229" rx="12.5" ry="32"/><text transform="translate(230 229) rotate(-90)">HSD17B7</text></g>
<g id="n-CCL13"><ellipse class="c" cx="209" cy="293" rx="12.5" ry="32"/><text transform="translate(209 293) rotate(-90)">CCL13</text></g>
<g id="n-IL8"><ellipse class="c" cx="293" cy="286" rx="12.5" ry="32"/><text transform="translate(293 286) rotate(-90)">IL8</text></g>
<g id="n-CLEC4E"><ellipse class="c" cx="138" cy="357" rx="12.5" ry="32"/><text transform="translate(138 357) rotate(-90)">CLEC4E</text></g>
<g id="n-IRG1"><ellipse class="c" cx="191" cy="360" rx="12.5" ry="32"/><text transform="translate(191 360) rotate(-90)">IRG1</text></g>
<g id="n-IL1B"><ellipse class="c" cx="255" cy="335" rx="12.5" ry="32"/><text transform="translate(255 335) rotate(-90)">IL1B</text></g>
<g id="n-IL1A"><ellipse class="c" cx="317" cy="357" rx="12.5" ry="32"/><text transform="translate(317 357) rotate(-90)">IL1A</text></g>
<g id="n-IL6"><ellipse class="c" cx="274" cy="396" rx="12.5" ry="32"/><text transform="translate(274 396) rotate(-90)">IL6</text></g>
<g id="n-ATP6V1F"><ellipse class="c" cx="69" cy="417" rx="12.5" ry="32"/><text transform="translate(69 417) rotate(-90)">ATP6V1F</text></g>
<g id="n-ATP6V1D"><ellipse class="c" cx="127" cy="449" rx="12.5" ry="32"/><text transform="translate(127 449) rotate(-90)">ATP6V1D</text></g>
<g id="n-ATP6V0B"><ellipse class="c" cx="90" cy="472" rx="12.5" ry="32"/><text transform="translate(90 472) rotate(-90)">ATP6V0B</text></g>
<g id="n-ATP6AP1"><ellipse class="c" cx="67" cy="518" rx="12.5" ry="32"/><text transform="translate(67 518) rotate(-90)">ATP6AP1</text></g>
<g id="n-ATP6V0D1"><ellipse class="c" cx="144" cy="520" rx="12.5" ry="32"/><text transform="translate(144 520) rotate(-90)">ATP6V0D1</text></g>
<g id="n-ATP6AP2"><ellipse class="c" cx="91" cy="564" rx="12.5" ry="32"/><text transform="translate(91 564) rotate(-90)">ATP6AP2</text></g>
<g id="n-AEN"><ellipse class="c" cx="108" cy="634" rx="12.5" ry="32"/><text transform="translate(108 634) rotate(-90)">AEN</text></g>
<g id="n-DROSHA"><ellipse class="c" cx="158" cy="628" rx="12.5" ry="32"/><text transform="translate(158 628) rotate(-90)">DROSHA</text></g>
<g id="n-ISG20"><ellipse class="c" cx="140" cy="676" rx="12.5" ry="32"/><text transform="translate(140 676) rotate(-90)">ISG20</text></g>
<g id="n-GAMT"><ellipse class="c" cx="100" cy="711" rx="12.5" ry="32"/><text transform="translate(100 711) rotate(-90)">GAMT</text></g>
<g id="n-DDX24"><ellipse class="c" cx="194" cy="690" rx="12.5" ry="32"/><text transform="translate(194 690) rotate(-90)">DDX24</text></g>
<g id="n-RBM34"><ellipse class="c" cx="127" cy="757" rx="12.5" ry="32"/><text transform="translate(127 757) rotate(-90)">RBM34</text></g>
<g id="n-KCTD19"><ellipse class="c" cx="176" cy="756" rx="12.5" ry="32"/><text transform="translate(176 756) rotate(-90)">KCTD19</text></g>
<g id="n-IMPDH2"><ellipse class="c" cx="70" cy="785" rx="12.5" ry="32"/><text transform="translate(70 785) rotate(-90)">IMPDH2</text></g>
<g id="n-ARGLU1"><ellipse class="c" cx="390" cy="65" rx="12.5" ry="32"/><text transform="translate(390 65) rotate(-90)">ARGLU1</text></g>
<g id="n-PNN"><ellipse class="c" cx="427" cy="117" rx="12.5" ry="32"/><text transform="translate(427 117) rotate(-90)">PNN</text></g>
<g id="n-SLTM"><ellipse class="c" cx="482" cy="130" rx="12.5" ry="32"/><text transform="translate(482 130) rotate(-90)">SLTM</text></g>
<g id="n-HNRNPH1"><ellipse class="c" cx="422" cy="192" rx="12.5" ry="32"/><text transform="translate(422 192) rotate(-90)">HNRNPH1</text></g>
<g id="n-TPM4"><ellipse class="c" cx="570" cy="60" rx="12.5" ry="32"/><text transform="translate(570 60) rotate(-90)">TPM4</text></g>
<g id="n-SRL"><ellipse class="c" cx="580" cy="148" rx="12.5" ry="32"/><text transform="translate(580 148) rotate(-90)">SRL</text></g>
<g id="n-PDLIM3"><ellipse class="c" cx="532" cy="182" rx="12.5" ry="32"/><text transform="translate(532 182) rotate(-90)">PDLIM3</text></g>
<g id="n-CSRP2"><ellipse class="c" cx="643" cy="155" rx="12.5" ry="32"/><text transform="translate(643 155) rotate(-90)">CSRP2</text></g>
<g id="n-SERPING1"><ellipse class="c" cx="481" cy="240" rx="12.5" ry="32"/><text transform="translate(481 240) rotate(-90)">SERPING1</text></g>
<g id="n-C1S"><ellipse class="c" cx="527" cy="280" rx="12.5" ry="32"/><text transform="translate(527 280) rotate(-90)">C1S</text></g>
<g id="n-C1R"><ellipse class="c" cx="477" cy="328" rx="12.5" ry="32"/><text transform="translate(477 328) rotate(-90)">C1R</text></g>
<g id="n-CISD2"><ellipse class="c" cx="575" cy="230" rx="12.5" ry="32"/><text transform="translate(575 230) rotate(-90)">CISD2</text></g>
<g id="n-TXN"><ellipse class="c" cx="598" cy="288" rx="12.5" ry="32"/><text transform="translate(598 288) rotate(-90)">TXN</text></g>
<g id="n-SOD2"><ellipse class="c" cx="632" cy="340" rx="12.5" ry="32"/><text transform="translate(632 340) rotate(-90)">SOD2</text></g>
<g id="n-DAP3"><ellipse class="c" cx="668" cy="380" rx="12.5" ry="32"/><text transform="translate(668 380) rotate(-90)">DAP3</text></g>
<g id="n-HARS"><ellipse class="g" cx="397" cy="355" rx="12.5" ry="32"/><text transform="translate(397 355) rotate(-90)">HARS</text></g>
<g id="n-NARS"><ellipse class="g" cx="363" cy="432" rx="12.5" ry="32"/><text transform="translate(363 432) rotate(-90)">NARS</text></g>
<g id="n-AARS"><ellipse class="g" cx="442" cy="392" rx="12.5" ry="32"/><text transform="translate(442 392) rotate(-90)">AARS</text></g>
<g id="n-LARS"><ellipse class="g" cx="414" cy="432" rx="12.5" ry="32"/><text transform="translate(414 432) rotate(-90)">LARS</text></g>
<g id="n-MARS"><ellipse class="g" cx="476" cy="432" rx="12.5" ry="32"/><text transform="translate(476 432) rotate(-90)">MARS</text></g>
<g id="n-WARS"><ellipse class="g" cx="516" cy="370" rx="12.5" ry="32"/><text transform="translate(516 370) rotate(-90)">WARS</text></g>
<g id="n-EIF5A2"><ellipse class="g" cx="546" cy="422" rx="12.5" ry="32"/><text transform="translate(546 422) rotate(-90)">EIF5A2</text></g>
<g id="n-VARS2"><ellipse class="g" cx="448" cy="480" rx="12.5" ry="32"/><text transform="translate(448 480) rotate(-90)">VARS2</text></g>
<g id="n-GARS"><ellipse class="g" cx="388" cy="498" rx="12.5" ry="32"/><text transform="translate(388 498) rotate(-90)">GARS</text></g>
<g id="n-ASNS"><ellipse class="g" cx="484" cy="518" rx="12.5" ry="32"/><text transform="translate(484 518) rotate(-90)">ASNS</text></g>
<g id="n-PPP1R15A"><ellipse class="c" cx="861" cy="35" rx="12.5" ry="32"/><text transform="translate(861 35) rotate(-90)">PPP1R15A</text></g>
<g id="n-ATF3"><ellipse class="c" cx="811" cy="68" rx="12.5" ry="32"/><text transform="translate(811 68) rotate(-90)">ATF3</text></g>
<g id="n-FOSL2"><ellipse class="c" cx="762" cy="100" rx="12.5" ry="32"/><text transform="translate(762 100) rotate(-90)">FOSL2</text></g>
<g id="n-LZTS1"><ellipse class="c" cx="868" cy="125" rx="12.5" ry="32"/><text transform="translate(868 125) rotate(-90)">LZTS1</text></g>
<g id="n-ALG3"><ellipse class="c" cx="818" cy="157" rx="12.5" ry="32"/><text transform="translate(818 157) rotate(-90)">ALG3</text></g>
<g id="n-CCDC64"><ellipse class="c" cx="771" cy="205" rx="12.5" ry="32"/><text transform="translate(771 205) rotate(-90)">CCDC64</text></g>
<g id="n-GLB1L"><ellipse class="c" cx="866" cy="210" rx="12.5" ry="32"/><text transform="translate(866 210) rotate(-90)">GLB1L</text></g>
<g id="n-TWF1"><ellipse class="c" cx="818" cy="258" rx="12.5" ry="32"/><text transform="translate(818 258) rotate(-90)">TWF1</text></g>
<g id="n-GLB1"><ellipse class="c" cx="771" cy="305" rx="12.5" ry="32"/><text transform="translate(771 305) rotate(-90)">GLB1</text></g>
<g id="n-SRRT"><ellipse class="c" cx="867" cy="305" rx="12.5" ry="32"/><text transform="translate(867 305) rotate(-90)">SRRT</text></g>
<g id="n-U2AF2"><ellipse class="c" cx="815" cy="355" rx="12.5" ry="32"/><text transform="translate(815 355) rotate(-90)">U2AF2</text></g>
<g id="n-SF1"><ellipse class="c" cx="770" cy="390" rx="12.5" ry="32"/><text transform="translate(770 390) rotate(-90)">SF1</text></g>
<g id="n-CD8B"><ellipse class="c" cx="867" cy="388" rx="12.5" ry="32"/><text transform="translate(867 388) rotate(-90)">CD8B</text></g>
<g id="n-CD8A"><ellipse class="c" cx="825" cy="436" rx="12.5" ry="32"/><text transform="translate(825 436) rotate(-90)">CD8A</text></g>
<g id="n-GZMK"><ellipse class="c" cx="780" cy="488" rx="12.5" ry="32"/><text transform="translate(780 488) rotate(-90)">GZMK</text></g>
<g id="n-DMXL2"><ellipse class="c" cx="713" cy="520" rx="12.5" ry="32"/><text transform="translate(713 520) rotate(-90)">DMXL2</text></g>
<g id="n-TRRAP"><ellipse class="c" cx="738" cy="578" rx="12.5" ry="32"/><text transform="translate(738 578) rotate(-90)">TRRAP</text></g>
<g id="n-SMC1B"><ellipse class="c" cx="772" cy="635" rx="12.5" ry="32"/><text transform="translate(772 635) rotate(-90)">SMC1B</text></g>
<g id="n-MSH6"><ellipse class="c" cx="803" cy="612" rx="12.5" ry="32"/><text transform="translate(803 612) rotate(-90)">MSH6</text></g>
<g id="n-MUTYH"><ellipse class="c" cx="842" cy="607" rx="12.5" ry="32"/><text transform="translate(842 607) rotate(-90)">MUTYH</text></g>
<g id="n-SMC5"><ellipse class="c" cx="860" cy="675" rx="12.5" ry="32"/><text transform="translate(860 675) rotate(-90)">SMC5</text></g>
<g id="n-EHMT2"><ellipse class="c" cx="914" cy="682" rx="12.5" ry="32"/><text transform="translate(914 682) rotate(-90)">EHMT2</text></g>
<g id="n-UNG"><ellipse class="c" cx="714" cy="705" rx="12.5" ry="32"/><text transform="translate(714 705) rotate(-90)">UNG</text></g>
<g id="n-POLA2"><ellipse class="c" cx="787" cy="710" rx="12.5" ry="32"/><text transform="translate(787 710) rotate(-90)">POLA2</text></g>
<g id="n-SMC6"><ellipse class="c" cx="825" cy="740" rx="12.5" ry="32"/><text transform="translate(825 740) rotate(-90)">SMC6</text></g>
<g id="n-WRN"><ellipse class="c" cx="762" cy="772" rx="12.5" ry="32"/><text transform="translate(762 772) rotate(-90)">WRN</text></g>
<g id="n-UROD"><ellipse class="c" cx="1022" cy="42" rx="12.5" ry="32"/><text transform="translate(1022 42) rotate(-90)">UROD</text></g>
<g id="n-TVP23B"><ellipse class="c" cx="1081" cy="44" rx="12.5" ry="32"/><text transform="translate(1081 44) rotate(-90)">TVP23B</text></g>
<g id="n-TMEM176B"><ellipse class="c" cx="1022" cy="117" rx="12.5" ry="32"/><text transform="translate(1022 117) rotate(-90)">TMEM176B</text></g>
<g id="n-TMEM176A"><ellipse class="c" cx="1081" cy="119" rx="12.5" ry="32"/><text transform="translate(1081 119) rotate(-90)">TMEM176A</text></g>
<g id="n-YIPF5"><ellipse class="c" cx="1022" cy="192" rx="12.5" ry="32"/><text transform="translate(1022 192) rotate(-90)">YIPF5</text></g>
<g id="n-TMEM167A"><ellipse class="c" cx="1081" cy="194" rx="12.5" ry="32"/><text transform="translate(1081 194) rotate(-90)">TMEM167A</text></g>
<g id="n-PSIP1"><ellipse class="c" cx="1022" cy="266" rx="12.5" ry="32"/><text transform="translate(1022 266) rotate(-90)">PSIP1</text></g>
<g id="n-DEK"><ellipse class="c" cx="1081" cy="268" rx="12.5" ry="32"/><text transform="translate(1081 268) rotate(-90)">DEK</text></g>
<g id="n-CPA1"><ellipse class="c" cx="1022" cy="338" rx="12.5" ry="32"/><text transform="translate(1022 338) rotate(-90)">CPA1</text></g>
<g id="n-CEL"><ellipse class="c" cx="1081" cy="340" rx="12.5" ry="32"/><text transform="translate(1081 340) rotate(-90)">CEL</text></g>
<g id="n-NTRK3"><ellipse class="c" cx="1022" cy="407" rx="12.5" ry="32"/><text transform="translate(1022 407) rotate(-90)">NTRK3</text></g>
<g id="n-CDH19"><ellipse class="c" cx="1081" cy="409" rx="12.5" ry="32"/><text transform="translate(1081 409) rotate(-90)">CDH19</text></g>
<g id="n-POU2AF1"><ellipse class="c" cx="1022" cy="480" rx="12.5" ry="32"/><text transform="translate(1022 480) rotate(-90)">POU2AF1</text></g>
<g id="n-MZB1"><ellipse class="c" cx="1081" cy="482" rx="12.5" ry="32"/><text transform="translate(1081 482) rotate(-90)">MZB1</text></g>
<g id="n-VPREB3"><ellipse class="c" cx="1022" cy="553" rx="12.5" ry="32"/><text transform="translate(1022 553) rotate(-90)">VPREB3</text></g>
<g id="n-CD19"><ellipse class="c" cx="1081" cy="555" rx="12.5" ry="32"/><text transform="translate(1081 555) rotate(-90)">CD19</text></g>
<g id="n-TMEM50A"><ellipse class="c" cx="1022" cy="628" rx="12.5" ry="32"/><text transform="translate(1022 628) rotate(-90)">TMEM50A</text></g>
<g id="n-LEPROT"><ellipse class="c" cx="1081" cy="628" rx="12.5" ry="32"/><text transform="translate(1081 628) rotate(-90)">LEPROT</text></g>
<g id="n-LAMC3"><ellipse class="c" cx="1022" cy="700" rx="12.5" ry="32"/><text transform="translate(1022 700) rotate(-90)">LAMC3</text></g>
<g id="n-LAMA3"><ellipse class="c" cx="1081" cy="700" rx="12.5" ry="32"/><text transform="translate(1081 700) rotate(-90)">LAMA3</text></g>
<g id="n-UBE2H"><ellipse class="c" cx="1022" cy="772" rx="12.5" ry="32"/><text transform="translate(1022 772) rotate(-90)">UBE2H</text></g>
<g id="n-GABARAPL2"><ellipse class="c" cx="1081" cy="772" rx="12.5" ry="32"/><text transform="translate(1081 772) rotate(-90)">GABARAPL2</text></g>
<g id="n-USO1"><ellipse class="c" cx="1022" cy="848" rx="12.5" ry="32"/><text transform="translate(1022 848) rotate(-90)">USO1</text></g>
<g id="n-UFL1"><ellipse class="c" cx="1081" cy="850" rx="12.5" ry="32"/><text transform="translate(1081 850) rotate(-90)">UFL1</text></g>
<g id="n-CTSB"><ellipse class="c" cx="1005" cy="915" rx="12.5" ry="32"/><text transform="translate(1005 915) rotate(-90)">CTSB</text></g>
<g id="n-LAMP1"><ellipse class="c" cx="1063" cy="922" rx="12.5" ry="32"/><text transform="translate(1063 922) rotate(-90)">LAMP1</text></g>
<g id="n-MMS19"><ellipse class="y" cx="240" cy="578" rx="12.5" ry="32"/><text transform="translate(240 578) rotate(-90)">MMS19</text></g>
<g id="n-TRIM21"><ellipse class="y" cx="305" cy="587" rx="12.5" ry="32"/><text transform="translate(305 587) rotate(-90)">TRIM21</text></g>
<g id="n-IFI44"><ellipse class="y" cx="338" cy="567" rx="12.5" ry="32"/><text transform="translate(338 567) rotate(-90)">IFI44</text></g>
<g id="n-ZNFX1"><ellipse class="y" cx="371" cy="577" rx="12.5" ry="32"/><text transform="translate(371 577) rotate(-90)">ZNFX1</text></g>
<g id="n-IFI44L"><ellipse class="y" cx="400" cy="595" rx="12.5" ry="32"/><text transform="translate(400 595) rotate(-90)">IFI44L</text></g>
<g id="n-BST2"><ellipse class="y" cx="448" cy="572" rx="12.5" ry="32"/><text transform="translate(448 572) rotate(-90)">BST2</text></g>
<g id="n-EIF2AK2"><ellipse class="y" cx="481" cy="605" rx="12.5" ry="32"/><text transform="translate(481 605) rotate(-90)">EIF2AK2</text></g>
<g id="n-IFI6"><ellipse class="y" cx="432" cy="628" rx="12.5" ry="32"/><text transform="translate(432 628) rotate(-90)">IFI6</text></g>
<g id="n-NMI"><ellipse class="y" cx="517" cy="640" rx="12.5" ry="32"/><text transform="translate(517 640) rotate(-90)">NMI</text></g>
<g id="n-DDX60"><ellipse class="y" cx="285" cy="643" rx="12.5" ry="32"/><text transform="translate(285 643) rotate(-90)">DDX60</text></g>
<g id="n-PARP9"><ellipse class="y" cx="371" cy="650" rx="12.5" ry="32"/><text transform="translate(371 650) rotate(-90)">PARP9</text></g>
<g id="n-RTP4"><ellipse class="y" cx="314" cy="672" rx="12.5" ry="32"/><text transform="translate(314 672) rotate(-90)">RTP4</text></g>
<g id="n-MX1"><ellipse class="y" cx="345" cy="673" rx="12.5" ry="32"/><text transform="translate(345 673) rotate(-90)">MX1</text></g>
<g id="n-IRF7"><ellipse class="y" cx="403" cy="662" rx="12.5" ry="32"/><text transform="translate(403 662) rotate(-90)">IRF7</text></g>
<g id="n-PARP12"><ellipse class="y" cx="457" cy="665" rx="12.5" ry="32"/><text transform="translate(457 665) rotate(-90)">PARP12</text></g>
<g id="n-LGALS3BP"><ellipse class="y" cx="484" cy="678" rx="12.5" ry="32"/><text transform="translate(484 678) rotate(-90)">LGALS3BP</text></g>
<g id="n-HERC5"><ellipse class="y" cx="255" cy="690" rx="12.5" ry="32"/><text transform="translate(255 690) rotate(-90)">HERC5</text></g>
<g id="n-IFIT2"><ellipse class="y" cx="283" cy="721" rx="12.5" ry="32"/><text transform="translate(283 721) rotate(-90)">IFIT2</text></g>
<g id="n-RSAD2"><ellipse class="y" cx="370" cy="725" rx="12.5" ry="32"/><text transform="translate(370 725) rotate(-90)">RSAD2</text></g>
<g id="n-ISG15"><ellipse class="y" cx="399" cy="737" rx="12.5" ry="32"/><text transform="translate(399 737) rotate(-90)">ISG15</text></g>
<g id="n-OAS1"><ellipse class="y" cx="429" cy="737" rx="12.5" ry="32"/><text transform="translate(429 737) rotate(-90)">OAS1</text></g>
<g id="n-IFI35"><ellipse class="y" cx="462" cy="735" rx="12.5" ry="32"/><text transform="translate(462 735) rotate(-90)">IFI35</text></g>
<g id="n-PSME2"><ellipse class="y" cx="523" cy="730" rx="12.5" ry="32"/><text transform="translate(523 730) rotate(-90)">PSME2</text></g>
<g id="n-EIF2S1"><ellipse class="y" cx="577" cy="747" rx="12.5" ry="32"/><text transform="translate(577 747) rotate(-90)">EIF2S1</text></g>
<g id="n-UBE2L6"><ellipse class="y" cx="488" cy="758" rx="12.5" ry="32"/><text transform="translate(488 758) rotate(-90)">UBE2L6</text></g>
<g id="n-HERC6"><ellipse class="y" cx="260" cy="768" rx="12.5" ry="32"/><text transform="translate(260 768) rotate(-90)">HERC6</text></g>
<g id="n-DTX3L"><ellipse class="y" cx="312" cy="741" rx="12.5" ry="32"/><text transform="translate(312 741) rotate(-90)">DTX3L</text></g>
<g id="n-DDX58"><ellipse class="y" cx="340" cy="755" rx="12.5" ry="32"/><text transform="translate(340 755) rotate(-90)">DDX58</text></g>
<g id="n-CXCL10"><ellipse class="y" cx="300" cy="797" rx="12.5" ry="32"/><text transform="translate(300 797) rotate(-90)">CXCL10</text></g>
<g id="n-DHX58"><ellipse class="y" cx="364" cy="800" rx="12.5" ry="32"/><text transform="translate(364 800) rotate(-90)">DHX58</text></g>
<g id="n-IFIT3"><ellipse class="y" cx="397" cy="810" rx="12.5" ry="32"/><text transform="translate(397 810) rotate(-90)">IFIT3</text></g>
<g id="n-STAT1"><ellipse class="y" cx="430" cy="805" rx="12.5" ry="32"/><text transform="translate(430 805) rotate(-90)">STAT1</text></g>
<g id="n-UBA7"><ellipse class="y" cx="463" cy="802" rx="12.5" ry="32"/><text transform="translate(463 802) rotate(-90)">UBA7</text></g>
<g id="n-PSMC2"><ellipse class="y" cx="547" cy="775" rx="12.5" ry="32"/><text transform="translate(547 775) rotate(-90)">PSMC2</text></g>
<g id="n-TXNL1"><ellipse class="y" cx="614" cy="765" rx="12.5" ry="32"/><text transform="translate(614 765) rotate(-90)">TXNL1</text></g>
<g id="n-SAMD9L"><ellipse class="y" cx="333" cy="825" rx="12.5" ry="32"/><text transform="translate(333 825) rotate(-90)">SAMD9L</text></g>
<g id="n-PSMB9"><ellipse class="y" cx="513" cy="812" rx="12.5" ry="32"/><text transform="translate(513 812) rotate(-90)">PSMB9</text></g>
<g id="n-PSMD3"><ellipse class="y" cx="592" cy="823" rx="12.5" ry="32"/><text transform="translate(592 823) rotate(-90)">PSMD3</text></g>
<g id="n-PSMD4"><ellipse class="y" cx="553" cy="840" rx="12.5" ry="32"/><text transform="translate(553 840) rotate(-90)">PSMD4</text></g>
<g id="n-PSMA3"><ellipse class="y" cx="627" cy="835" rx="12.5" ry="32"/><text transform="translate(627 835) rotate(-90)">PSMA3</text></g>
<g id="n-CXCL9"><ellipse class="y" cx="258" cy="847" rx="12.5" ry="32"/><text transform="translate(258 847) rotate(-90)">CXCL9</text></g>
<g id="n-CXCL11"><ellipse class="y" cx="307" cy="863" rx="12.5" ry="32"/><text transform="translate(307 863) rotate(-90)">CXCL11</text></g>
<g id="n-IRF1"><ellipse class="y" cx="373" cy="862" rx="12.5" ry="32"/><text transform="translate(373 862) rotate(-90)">IRF1</text></g>
<g id="n-STAT2"><ellipse class="y" cx="422" cy="880" rx="12.5" ry="32"/><text transform="translate(422 880) rotate(-90)">STAT2</text></g>
<g id="n-TAP1"><ellipse class="y" cx="448" cy="875" rx="12.5" ry="32"/><text transform="translate(448 875) rotate(-90)">TAP1</text></g>
<g id="n-PSMA6"><ellipse class="y" cx="524" cy="890" rx="12.5" ry="32"/><text transform="translate(524 890) rotate(-90)">PSMA6</text></g>
<g id="n-PSMD11"><ellipse class="y" cx="566" cy="900" rx="12.5" ry="32"/><text transform="translate(566 900) rotate(-90)">PSMD11</text></g>
<g id="n-PSMB2"><ellipse class="y" cx="614" cy="895" rx="12.5" ry="32"/><text transform="translate(614 895) rotate(-90)">PSMB2</text></g>
<g id="n-FAM26F"><ellipse class="y" cx="227" cy="895" rx="12.5" ry="32"/><text transform="translate(227 895) rotate(-90)">FAM26F</text></g>
<g id="n-PPIC"><ellipse class="r" cx="720" cy="853" rx="12.5" ry="32"/><text transform="translate(720 853) rotate(-90)">PPIC</text></g>
<g id="n-SSR1"><ellipse class="r" cx="754" cy="850" rx="12.5" ry="32"/><text transform="translate(754 850) rotate(-90)">SSR1</text></g>
<g id="n-TXNDC5"><ellipse class="r" cx="810" cy="827" rx="12.5" ry="32"/><text transform="translate(810 827) rotate(-90)">TXNDC5</text></g>
<g id="n-LMAN1"><ellipse class="r" cx="688" cy="890" rx="12.5" ry="32"/><text transform="translate(688 890) rotate(-90)">LMAN1</text></g>
<g id="n-HSP90B1"><ellipse class="r" cx="808" cy="900" rx="12.5" ry="32"/><text transform="translate(808 900) rotate(-90)">HSP90B1</text></g>
<g id="n-SDF2"><ellipse class="r" cx="842" cy="893" rx="12.5" ry="32"/><text transform="translate(842 893) rotate(-90)">SDF2</text></g>
<g id="n-ATP1A1"><ellipse class="r" cx="935" cy="893" rx="12.5" ry="32"/><text transform="translate(935 893) rotate(-90)">ATP1A1</text></g>
<g id="n-TRAM2"><ellipse class="r" cx="773" cy="913" rx="12.5" ry="32"/><text transform="translate(773 913) rotate(-90)">TRAM2</text></g>
<g id="n-SSR4"><ellipse class="r" cx="721" cy="917" rx="12.5" ry="32"/><text transform="translate(721 917) rotate(-90)">SSR4</text></g>
<g id="n-PDIA5"><ellipse class="r" cx="873" cy="918" rx="12.5" ry="32"/><text transform="translate(873 918) rotate(-90)">PDIA5</text></g>
<g id="n-DAD1"><ellipse class="r" cx="657" cy="928" rx="12.5" ry="32"/><text transform="translate(657 928) rotate(-90)">DAD1</text></g>
<g id="n-NUCB1"><ellipse class="r" cx="905" cy="937" rx="12.5" ry="32"/><text transform="translate(905 937) rotate(-90)">NUCB1</text></g>
<g id="n-SSR3"><ellipse class="r" cx="693" cy="957" rx="12.5" ry="32"/><text transform="translate(693 957) rotate(-90)">SSR3</text></g>
<g id="n-P4HB"><ellipse class="r" cx="851" cy="962" rx="12.5" ry="32"/><text transform="translate(851 962) rotate(-90)">P4HB</text></g>
<g id="n-PSAP"><ellipse class="r" cx="950" cy="970" rx="12.5" ry="32"/><text transform="translate(950 970) rotate(-90)">PSAP</text></g>
<g id="n-HM13"><ellipse class="r" cx="788" cy="975" rx="12.5" ry="32"/><text transform="translate(788 975) rotate(-90)">HM13</text></g>
<g id="n-SSR2"><ellipse class="r" cx="757" cy="983" rx="12.5" ry="32"/><text transform="translate(757 983) rotate(-90)">SSR2</text></g>
<g id="n-PDIA3"><ellipse class="r" cx="820" cy="983" rx="12.5" ry="32"/><text transform="translate(820 983) rotate(-90)">PDIA3</text></g>
<g id="n-TRAM1"><ellipse class="r" cx="727" cy="993" rx="12.5" ry="32"/><text transform="translate(727 993) rotate(-90)">TRAM1</text></g>
<g id="n-HDLBP"><ellipse class="r" cx="880" cy="997" rx="12.5" ry="32"/><text transform="translate(880 997) rotate(-90)">HDLBP</text></g>
<g id="n-SPCS1"><ellipse class="r" cx="648" cy="1000" rx="12.5" ry="32"/><text transform="translate(648 1000) rotate(-90)">SPCS1</text></g>
<g id="n-ERLEC1"><ellipse class="r" cx="910" cy="1013" rx="12.5" ry="32"/><text transform="translate(910 1013) rotate(-90)">ERLEC1</text></g>
<g id="n-SEC62"><ellipse class="r" cx="941" cy="1036" rx="12.5" ry="32"/><text transform="translate(941 1036) rotate(-90)">SEC62</text></g>
<g id="n-CANX"><ellipse class="r" cx="846" cy="1038" rx="12.5" ry="32"/><text transform="translate(846 1038) rotate(-90)">CANX</text></g>
<g id="n-SEC61A1"><ellipse class="r" cx="800" cy="1040" rx="12.5" ry="32"/><text transform="translate(800 1040) rotate(-90)">SEC61A1</text></g>
<g id="n-OSTC"><ellipse class="r" cx="676" cy="1038" rx="12.5" ry="32"/><text transform="translate(676 1038) rotate(-90)">OSTC</text></g>
<g id="n-TMED9"><ellipse class="r" cx="615" cy="1040" rx="12.5" ry="32"/><text transform="translate(615 1040) rotate(-90)">TMED9</text></g>
<g id="n-TMED10"><ellipse class="r" cx="706" cy="1045" rx="12.5" ry="32"/><text transform="translate(706 1045) rotate(-90)">TMED10</text></g>
<g id="n-SEC61B"><ellipse class="r" cx="737" cy="1057" rx="12.5" ry="32"/><text transform="translate(737 1057) rotate(-90)">SEC61B</text></g>
<g id="n-KDELR2"><ellipse class="r" cx="769" cy="1053" rx="12.5" ry="32"/><text transform="translate(769 1053) rotate(-90)">KDELR2</text></g>
<g id="n-HSPA5"><ellipse class="r" cx="872" cy="1072" rx="12.5" ry="32"/><text transform="translate(872 1072) rotate(-90)">HSPA5</text></g>
<g id="n-SRPRB"><ellipse class="r" cx="647" cy="1078" rx="12.5" ry="32"/><text transform="translate(647 1078) rotate(-90)">SRPRB</text></g>
<g id="n-SEC24D"><ellipse class="r" cx="912" cy="1082" rx="12.5" ry="32"/><text transform="translate(912 1082) rotate(-90)">SEC24D</text></g>
<g id="n-DDOST"><ellipse class="r" cx="815" cy="1102" rx="12.5" ry="32"/><text transform="translate(815 1102) rotate(-90)">DDOST</text></g>
<g id="n-DNAJC3"><ellipse class="r" cx="844" cy="1108" rx="12.5" ry="32"/><text transform="translate(844 1108) rotate(-90)">DNAJC3</text></g>
<g id="n-SEC24A"><ellipse class="r" cx="951" cy="1105" rx="12.5" ry="32"/><text transform="translate(951 1105) rotate(-90)">SEC24A</text></g>
<g id="n-STT3A"><ellipse class="r" cx="693" cy="1108" rx="12.5" ry="32"/><text transform="translate(693 1108) rotate(-90)">STT3A</text></g>
<g id="n-PDIA6"><ellipse class="r" cx="759" cy="1112" rx="12.5" ry="32"/><text transform="translate(759 1112) rotate(-90)">PDIA6</text></g>
<g id="n-SPCS2"><ellipse class="r" cx="728" cy="1120" rx="12.5" ry="32"/><text transform="translate(728 1120) rotate(-90)">SPCS2</text></g>
<g id="n-RAB5IF"><ellipse class="r" cx="621" cy="1125" rx="12.5" ry="32"/><text transform="translate(621 1125) rotate(-90)">RAB5IF</text></g>
<g id="n-SLC33A1"><ellipse class="r" cx="879" cy="1133" rx="12.5" ry="32"/><text transform="translate(879 1133) rotate(-90)">SLC33A1</text></g>
<g id="n-SEC11C"><ellipse class="r" cx="664" cy="1143" rx="12.5" ry="32"/><text transform="translate(664 1143) rotate(-90)">SEC11C</text></g>
<g id="n-SND1"><ellipse class="r" cx="785" cy="1148" rx="12.5" ry="32"/><text transform="translate(785 1148) rotate(-90)">SND1</text></g>
<g id="n-SEC63"><ellipse class="r" cx="922" cy="1148" rx="12.5" ry="32"/><text transform="translate(922 1148) rotate(-90)">SEC63</text></g>
<g id="n-SLC35B1"><ellipse class="r" cx="702" cy="1173" rx="12.5" ry="32"/><text transform="translate(702 1173) rotate(-90)">SLC35B1</text></g>
<g id="n-MANF"><ellipse class="r" cx="735" cy="1177" rx="12.5" ry="32"/><text transform="translate(735 1177) rotate(-90)">MANF</text></g>
<g id="n-OS9"><ellipse class="r" cx="813" cy="1172" rx="12.5" ry="32"/><text transform="translate(813 1172) rotate(-90)">OS9</text></g>
<g id="n-COPG1"><ellipse class="r" cx="852" cy="1173" rx="12.5" ry="32"/><text transform="translate(852 1173) rotate(-90)">COPG1</text></g>
<g id="n-CLTCL1"><ellipse class="r" cx="640" cy="1187" rx="12.5" ry="32"/><text transform="translate(640 1187) rotate(-90)">CLTCL1</text></g>
<g id="n-SEC23B"><ellipse class="r" cx="896" cy="1205" rx="12.5" ry="32"/><text transform="translate(896 1205) rotate(-90)">SEC23B</text></g>
<g id="n-VIMP"><ellipse class="r" cx="768" cy="1208" rx="12.5" ry="32"/><text transform="translate(768 1208) rotate(-90)">VIMP</text></g>
<g id="n-GMPPB"><ellipse class="r" cx="673" cy="1217" rx="12.5" ry="32"/><text transform="translate(673 1217) rotate(-90)">GMPPB</text></g>
<g id="n-DNAJB9"><ellipse class="r" cx="828" cy="1230" rx="12.5" ry="32"/><text transform="translate(828 1230) rotate(-90)">DNAJB9</text></g>
<g id="n-LRRC59"><ellipse class="r" cx="712" cy="1243" rx="12.5" ry="32"/><text transform="translate(712 1243) rotate(-90)">LRRC59</text></g>
<g id="n-SIL1"><ellipse class="r" cx="863" cy="1242" rx="12.5" ry="32"/><text transform="translate(863 1242) rotate(-90)">SIL1</text></g>
<g id="n-PCSK7"><ellipse class="r" cx="792" cy="1250" rx="12.5" ry="32"/><text transform="translate(792 1250) rotate(-90)">PCSK7</text></g>
<g id="n-TMEM208"><ellipse class="c" cx="746" cy="1262" rx="12.5" ry="32"/><text transform="translate(746 1262) rotate(-90)">TMEM208</text></g>
<g id="n-ALG5"><ellipse class="c" cx="688" cy="1295" rx="12.5" ry="32"/><text transform="translate(688 1295) rotate(-90)">ALG5</text></g>
<g id="n-HSD17B10"><ellipse class="c" cx="722" cy="1325" rx="12.5" ry="32"/><text transform="translate(722 1325) rotate(-90)">HSD17B10</text></g>
<g id="n-ALG14"><ellipse class="c" cx="775" cy="1318" rx="12.5" ry="32"/><text transform="translate(775 1318) rotate(-90)">ALG14</text></g>
<g id="n-TRAC"><ellipse class="c" cx="83" cy="1113" rx="12.5" ry="32"/><text transform="translate(83 1113) rotate(-90)">TRAC</text></g>
<g id="n-LCK"><ellipse class="c" cx="140" cy="1097" rx="12.5" ry="32"/><text transform="translate(140 1097) rotate(-90)">LCK</text></g>
<g id="n-CD6"><ellipse class="c" cx="65" cy="1183" rx="12.5" ry="32"/><text transform="translate(65 1183) rotate(-90)">CD6</text></g>
<g id="n-CD3E"><ellipse class="c" cx="157" cy="1175" rx="12.5" ry="32"/><text transform="translate(157 1175) rotate(-90)">CD3E</text></g>
<g id="n-CD5"><ellipse class="c" cx="18" cy="1210" rx="12.5" ry="32"/><text transform="translate(18 1210) rotate(-90)">CD5</text></g>
<g id="n-PVRIG"><ellipse class="c" cx="113" cy="1213" rx="12.5" ry="32"/><text transform="translate(113 1213) rotate(-90)">PVRIG</text></g>
<g id="n-CORO2B"><ellipse class="c" cx="214" cy="1288" rx="12.5" ry="32"/><text transform="translate(214 1288) rotate(-90)">CORO2B</text></g>
<g id="n-STAB1"><ellipse class="c" cx="180" cy="1317" rx="12.5" ry="32"/><text transform="translate(180 1317) rotate(-90)">STAB1</text></g>
<g id="n-MYO1G"><ellipse class="c" cx="262" cy="1340" rx="12.5" ry="32"/><text transform="translate(262 1340) rotate(-90)">MYO1G</text></g>
<g id="n-DKK3"><ellipse class="c" cx="324" cy="1368" rx="12.5" ry="32"/><text transform="translate(324 1368) rotate(-90)">DKK3</text></g>
<g id="n-STK3"><ellipse class="c" cx="193" cy="1387" rx="12.5" ry="32"/><text transform="translate(193 1387) rotate(-90)">STK3</text></g>
<g id="n-ESM1"><ellipse class="c" cx="223" cy="1408" rx="12.5" ry="32"/><text transform="translate(223 1408) rotate(-90)">ESM1</text></g>
<g id="n-STAB2"><ellipse class="c" cx="261" cy="1413" rx="12.5" ry="32"/><text transform="translate(261 1413) rotate(-90)">STAB2</text></g>
<g id="n-SCARF1"><ellipse class="c" cx="297" cy="1410" rx="12.5" ry="32"/><text transform="translate(297 1410) rotate(-90)">SCARF1</text></g>
<g id="n-SH2D1A"><ellipse class="k" cx="176" cy="1050" rx="12.5" ry="32"/><text transform="translate(176 1050) rotate(-90)">SH2D1A</text></g>
<g id="n-P2RX7"><ellipse class="k" cx="261" cy="1035" rx="12.5" ry="32"/><text transform="translate(261 1035) rotate(-90)">P2RX7</text></g>
<g id="n-CD3D"><ellipse class="k" cx="206" cy="1082" rx="12.5" ry="32"/><text transform="translate(206 1082) rotate(-90)">CD3D</text></g>
<g id="n-INPP5D"><ellipse class="k" cx="313" cy="1088" rx="12.5" ry="32"/><text transform="translate(313 1088) rotate(-90)">INPP5D</text></g>
<g id="n-GRAP2"><ellipse class="k" cx="243" cy="1103" rx="12.5" ry="32"/><text transform="translate(243 1103) rotate(-90)">GRAP2</text></g>
<g id="n-CD247"><ellipse class="k" cx="280" cy="1100" rx="12.5" ry="32"/><text transform="translate(280 1100) rotate(-90)">CD247</text></g>
<g id="n-ZAP70"><ellipse class="k" cx="224" cy="1158" rx="12.5" ry="32"/><text transform="translate(224 1158) rotate(-90)">ZAP70</text></g>
<g id="n-GPR174"><ellipse class="k" cx="267" cy="1170" rx="12.5" ry="32"/><text transform="translate(267 1170) rotate(-90)">GPR174</text></g>
<g id="n-TRAF3IP3"><ellipse class="k" cx="309" cy="1157" rx="12.5" ry="32"/><text transform="translate(309 1157) rotate(-90)">TRAF3IP3</text></g>
<g id="n-BTN1A1"><ellipse class="k" cx="273" cy="1233" rx="12.5" ry="32"/><text transform="translate(273 1233) rotate(-90)">BTN1A1</text></g>
<g id="n-NCF2"><ellipse class="p" cx="350" cy="1008" rx="12.5" ry="32"/><text transform="translate(350 1008) rotate(-90)">NCF2</text></g>
<g id="n-SLC15A3"><ellipse class="p" cx="381" cy="1000" rx="12.5" ry="32"/><text transform="translate(381 1000) rotate(-90)">SLC15A3</text></g>
<g id="n-SLC11A1"><ellipse class="p" cx="418" cy="990" rx="12.5" ry="32"/><text transform="translate(418 990) rotate(-90)">SLC11A1</text></g>
<g id="n-C1orf162"><ellipse class="p" cx="447" cy="1022" rx="12.5" ry="32"/><text transform="translate(447 1022) rotate(-90)">C1orf162</text></g>
<g id="n-ARHGDIB"><ellipse class="p" cx="347" cy="1078" rx="12.5" ry="32"/><text transform="translate(347 1078) rotate(-90)">ARHGDIB</text></g>
<g id="n-ALOX5AP"><ellipse class="p" cx="403" cy="1058" rx="12.5" ry="32"/><text transform="translate(403 1058) rotate(-90)">ALOX5AP</text></g>
<g id="n-ADGRE1"><ellipse class="p" cx="476" cy="1067" rx="12.5" ry="32"/><text transform="translate(476 1067) rotate(-90)">ADGRE1</text></g>
<g id="n-TYROBP"><ellipse class="p" cx="380" cy="1097" rx="12.5" ry="32"/><text transform="translate(380 1097) rotate(-90)">TYROBP</text></g>
<g id="n-SRGN"><ellipse class="p" cx="438" cy="1087" rx="12.5" ry="32"/><text transform="translate(438 1087) rotate(-90)">SRGN</text></g>
<g id="n-FGR"><ellipse class="p" cx="503" cy="1093" rx="12.5" ry="32"/><text transform="translate(503 1093) rotate(-90)">FGR</text></g>
<g id="n-CD14"><ellipse class="p" cx="340" cy="1145" rx="12.5" ry="32"/><text transform="translate(340 1145) rotate(-90)">CD14</text></g>
<g id="n-CTSS"><ellipse class="p" cx="404" cy="1153" rx="12.5" ry="32"/><text transform="translate(404 1153) rotate(-90)">CTSS</text></g>
<g id="n-CYBB"><ellipse class="p" cx="437" cy="1150" rx="12.5" ry="32"/><text transform="translate(437 1150) rotate(-90)">CYBB</text></g>
<g id="n-TLR2"><ellipse class="p" cx="373" cy="1173" rx="12.5" ry="32"/><text transform="translate(373 1173) rotate(-90)">TLR2</text></g>
<g id="n-C3AR1"><ellipse class="p" cx="501" cy="1160" rx="12.5" ry="32"/><text transform="translate(501 1160) rotate(-90)">C3AR1</text></g>
<g id="n-RGS18"><ellipse class="p" cx="464" cy="1177" rx="12.5" ry="32"/><text transform="translate(464 1177) rotate(-90)">RGS18</text></g>
<g id="n-MSR1"><ellipse class="p" cx="558" cy="1158" rx="12.5" ry="32"/><text transform="translate(558 1158) rotate(-90)">MSR1</text></g>
<g id="n-CORO1A"><ellipse class="p" cx="322" cy="1222" rx="12.5" ry="32"/><text transform="translate(322 1222) rotate(-90)">CORO1A</text></g>
<g id="n-SPI1"><ellipse class="p" cx="395" cy="1227" rx="12.5" ry="32"/><text transform="translate(395 1227) rotate(-90)">SPI1</text></g>
<g id="n-C5AR1"><ellipse class="p" cx="437" cy="1220" rx="12.5" ry="32"/><text transform="translate(437 1220) rotate(-90)">C5AR1</text></g>
<g id="n-TLR4"><ellipse class="p" cx="500" cy="1237" rx="12.5" ry="32"/><text transform="translate(500 1237) rotate(-90)">TLR4</text></g>
<g id="n-CD80"><ellipse class="p" cx="467" cy="1278" rx="12.5" ry="32"/><text transform="translate(467 1278) rotate(-90)">CD80</text></g>
<g id="n-SASH3"><ellipse class="p" cx="322" cy="1290" rx="12.5" ry="32"/><text transform="translate(322 1290) rotate(-90)">SASH3</text></g>
<g id="n-WAS"><ellipse class="p" cx="363" cy="1290" rx="12.5" ry="32"/><text transform="translate(363 1290) rotate(-90)">WAS</text></g>
<g id="n-PTAFR"><ellipse class="p" cx="401" cy="1290" rx="12.5" ry="32"/><text transform="translate(401 1290) rotate(-90)">PTAFR</text></g>
<g id="n-BLK"><ellipse class="p" cx="439" cy="1290" rx="12.5" ry="32"/><text transform="translate(439 1290) rotate(-90)">BLK</text></g>
</g>
</svg>
